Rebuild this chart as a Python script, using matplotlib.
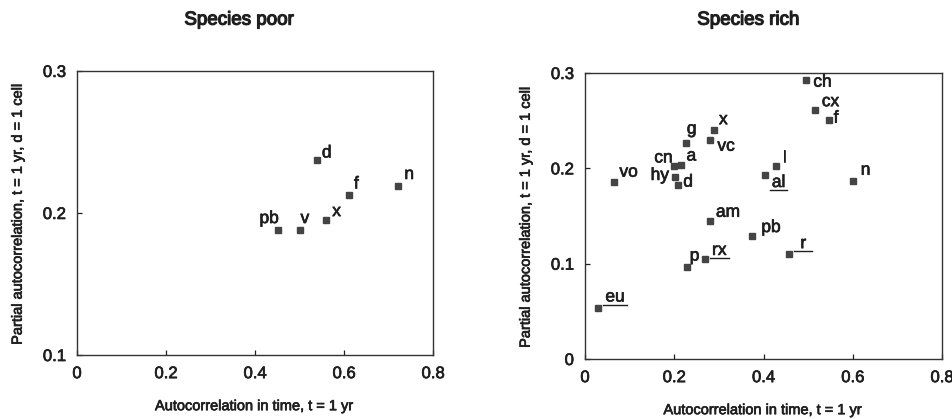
import matplotlib
matplotlib.use("Agg")
import matplotlib.pyplot as plt
import matplotlib.patheffects as pe
from matplotlib.lines import Line2D

plt.rcParams["font.family"] = ["Liberation Sans", "DejaVu Sans"]

# ------------------------------------------------------------------
# Dados
# ------------------------------------------------------------------
poor_labels = ["pb", "v", "x", "d", "f", "n"]
poor_x = [0.451, 0.500, 0.560, 0.539, 0.611, 0.722]
poor_y = [0.188, 0.188, 0.195, 0.237, 0.213, 0.219]

rich_labels = ["ch", "cx", "f", "x", "vc", "g", "cn", "a", "hy", "d", "vo",
               "l", "al", "n", "am", "pb", "r", "rx", "p", "eu"]
rich_x = [0.496, 0.515, 0.546, 0.289, 0.281, 0.226, 0.199, 0.214, 0.202,
          0.209, 0.066, 0.427, 0.403, 0.600, 0.280, 0.375, 0.458, 0.269,
          0.228, 0.030]
rich_y = [0.293, 0.261, 0.251, 0.240, 0.230, 0.227, 0.202, 0.204, 0.191,
          0.183, 0.186, 0.202, 0.193, 0.187, 0.145, 0.129, 0.110, 0.105,
          0.097, 0.054]
rich_underlined = ["al", "r", "rx", "eu"]

xticks = [0, 0.2, 0.4, 0.6, 0.8]
xticklabels = ["0", "0.2", "0.4", "0.6", "0.8"]
poor_yticks = [0.1, 0.2, 0.3]
rich_yticks = [0, 0.1, 0.2, 0.3]
rich_yticklabels = ["0", "0.1", "0.2", "0.3"]

xlabel = "Autocorrelation in time, t = 1 yr"
ylabel = "Partial autocorrelation, t = 1 yr, d = 1 cell"

# deslocamento dos rótulos (px): dx, dy, alinhamento
poor_offsets = {"pb": (1, 7, "right"), "v": (1, 7, "left"), "x": (6, 4, "left"),
                "d": (5, 3, "left"), "f": (5, 6, "left"), "n": (6, 7, "left")}
rich_offsets = {"ch": (7, -7, "left"), "cx": (7, 4, "left"), "f": (5, -3, "left"),
                "x": (5, 6, "left"), "vc": (7, -11, "left"), "g": (1, 9, "left"),
                "cn": (-1, 4, "right"), "a": (6, 4, "left"), "hy": (-6, -3, "right"),
                "d": (5, -2, "left"), "vo": (5, 5, "left"), "l": (7, 4, "left"),
                "al": (7, -12, "left"), "n": (8, 6, "left"), "am": (6, 4, "left"),
                "pb": (9, 4, "left"), "r": (11, 6, "left"), "rx": (7, 4, "left"),
                "p": (3, 6, "left"), "eu": (7, 6, "left")}

ink = "#1f1f1f"
mark = "#444444"
# leve engrossamento para imitar a impressão digitalizada
grosso = [pe.withStroke(linewidth=0.5, foreground=ink)]
titulo_fx = [pe.withStroke(linewidth=0.9, foreground=ink)]

fig = plt.figure(figsize=(9.52, 4.19), dpi=100)
ax1 = fig.add_axes([0.0809, 0.1527, 0.374, 0.678])
ax2 = fig.add_axes([0.6145, 0.1432, 0.375, 0.6826])


def desenha(ax, xs, ys, labels, offsets):
    ax.plot(xs, ys, ls="none", marker="s", ms=4, color=mark, mec=mark)
    textos = {}
    for x, y, lab in zip(xs, ys, labels):
        dx, dy, ha = offsets[lab]
        t = ax.annotate(lab, xy=(x, y), xytext=(dx * 0.72, dy * 0.72),
                        textcoords="offset points", ha=ha, va="baseline",
                        fontsize=12.5, color=ink, path_effects=grosso)
        textos[lab] = (t, x, y, dy)
    ax.set_xlim(0, 0.8)
    ax.set_xticks(xticks)
    ax.set_xticklabels(xticklabels)
    ax.set_xlabel(xlabel, fontsize=10.5, color=ink, labelpad=13,
                  path_effects=grosso)
    ax.set_ylabel(ylabel, fontsize=10.5, color=ink, labelpad=13,
                  path_effects=grosso)
    ax.tick_params(direction="in", length=3.5, width=0.9, colors=ink,
                   labelsize=12, pad=8)
    for lbl in ax.get_xticklabels():
        lbl.set_path_effects(grosso)
    for s in ax.spines.values():
        s.set_color("#333333")
        s.set_linewidth(1.0)
    return textos


desenha(ax1, poor_x, poor_y, poor_labels, poor_offsets)
ax1.set_ylim(0.1, 0.3)
ax1.set_yticks(poor_yticks)
ax1.set_yticklabels([str(v) for v in poor_yticks])
for lbl in ax1.get_yticklabels():
    lbl.set_path_effects(grosso)

textos = desenha(ax2, rich_x, rich_y, rich_labels, rich_offsets)
ax2.set_ylim(0, 0.3)
ax2.set_yticks(rich_yticks)
ax2.set_yticklabels(rich_yticklabels)
for lbl in ax2.get_yticklabels():
    lbl.set_path_effects(grosso)

fig.text(0.251, 0.952, "Species poor", ha="center", va="center",
         fontsize=13.5, color=ink, path_effects=titulo_fx)
fig.text(0.786, 0.952, "Species rich", ha="center", va="center",
         fontsize=13.5, color=ink, path_effects=titulo_fx)

# sublinhados
fig.canvas.draw()
renderer = fig.canvas.get_renderer()
inv = fig.transFigure.inverted()
for lab in rich_underlined:
    t, x, y, dy = textos[lab]
    bb = t.get_window_extent(renderer)
    base = ax2.transData.transform((x, y))[1] + dy - 3
    pad = 6 if lab == "r" else 2
    (fx0, fy), (fx1, _) = inv.transform([(bb.x0 - pad, base), (bb.x1 + pad, base)])
    fig.add_artist(Line2D([fx0, fx1], [fy, fy], color=ink, lw=1.0))

fig.savefig("out.png", dpi=100)
